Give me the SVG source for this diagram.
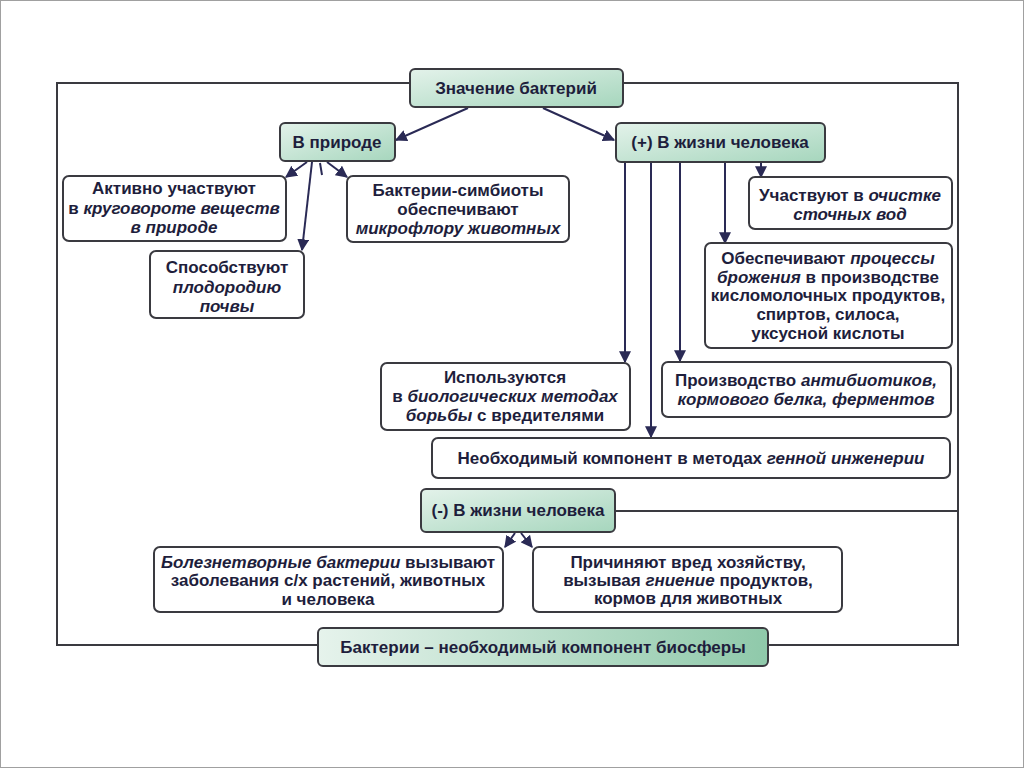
<svg xmlns="http://www.w3.org/2000/svg" width="1024" height="768" viewBox="0 0 1024 768">
<style>
.box{fill:#fff;stroke:#3a3a40;stroke-width:2}
.g{fill:url(#gr);stroke:#3a3a40;stroke-width:2}
.gb{fill:url(#gr2);stroke:#3a3a40;stroke-width:2}
text{font-family:"Liberation Sans",Arial,sans-serif;font-weight:bold;font-size:17px;fill:#1e1e3c;text-anchor:middle}
.i{font-style:italic}
.ln{stroke:#2a2a55;stroke-width:2;fill:none}
.fr{stroke:#3a3a40;stroke-width:2;fill:none}
</style>
<defs>
<linearGradient id="gr" x1="0" y1="0" x2="1" y2="1">
<stop offset="0" stop-color="#e3f2ea"/><stop offset="1" stop-color="#a6d6bd"/>
</linearGradient>
<linearGradient id="gr2" x1="0" y1="0" x2="1" y2="0">
<stop offset="0" stop-color="#e6f3ec"/><stop offset="1" stop-color="#8fc9aa"/>
</linearGradient>
<marker id="a" viewBox="0 0 10 10" refX="9" refY="5" markerWidth="6" markerHeight="6" orient="auto" markerUnits="strokeWidth">
<path d="M0,0 L10,5 L0,10 z" fill="#2a2a55"/>
</marker>
</defs>
<rect x="0.5" y="0.5" width="1023" height="767" fill="#fff" stroke="#a0a0a0"/>
<g id="connectors">
<polyline class="fr" points="410,83 57,83 57,645 318,645"/>
<polyline class="fr" points="623,83 958,83 958,645 768,645"/>
<line class="fr" x1="615" y1="511" x2="958" y2="511"/>
<line class="ln" x1="468" y1="108" x2="396" y2="140" marker-end="url(#a)"/>
<line class="ln" x1="543" y1="108" x2="614" y2="140" marker-end="url(#a)"/>
<line class="ln" x1="307" y1="162" x2="286" y2="177" marker-end="url(#a)"/>
<line class="ln" x1="312" y1="162" x2="302" y2="250" marker-end="url(#a)"/>
<line class="ln" x1="320" y1="163" x2="322" y2="175"/>
<line class="ln" x1="327" y1="162" x2="347" y2="177" marker-end="url(#a)"/>
<line class="ln" x1="761" y1="162" x2="761" y2="177" marker-end="url(#a)"/>
<line class="ln" x1="725" y1="162" x2="725" y2="243" marker-end="url(#a)"/>
<line class="ln" x1="625" y1="162" x2="625" y2="362" marker-end="url(#a)"/>
<line class="ln" x1="680" y1="162" x2="680" y2="361" marker-end="url(#a)"/>
<line class="ln" x1="651" y1="162" x2="651" y2="437" marker-end="url(#a)"/>
<line class="ln" x1="515" y1="533" x2="505" y2="547" marker-end="url(#a)"/>
<line class="ln" x1="521" y1="533" x2="532" y2="547" marker-end="url(#a)"/>
</g>
<g id="n-main"><rect class="g" x="410" y="69" width="213" height="38" rx="5"/><text x="516" y="94">Значение бактерий</text></g>
<g id="n-nature"><rect class="g" x="280" y="123" width="115" height="38" rx="5"/><text x="337" y="148">В природе</text></g>
<g id="n-plus"><rect class="g" x="616" y="123" width="209" height="39" rx="5"/><text x="720" y="148">(+) В жизни человека</text></g>
<g id="n-cycle"><rect class="box" x="63" y="176" width="223" height="65" rx="6"/>
<text x="174" y="194">Активно участвуют</text>
<text x="174" y="214">в <tspan class="i">круговороте веществ</tspan></text>
<text x="174" y="233" class="i">в природе</text></g>
<g id="n-soil"><rect class="box" x="150" y="251" width="154" height="67" rx="6"/>
<text x="227" y="273">Способствуют</text>
<text x="227" y="293" class="i">плодородию</text>
<text x="227" y="312" class="i">почвы</text></g>
<g id="n-symb"><rect class="box" x="347" y="176" width="222" height="66" rx="6"/>
<text x="458" y="196">Бактерии-симбиоты</text>
<text x="458" y="215">обеспечивают</text>
<text x="458" y="234" class="i">микрофлору животных</text></g>
<g id="n-water"><rect class="box" x="749" y="177" width="203" height="52" rx="6"/>
<text x="850" y="201">Участвуют в <tspan class="i">очистке</tspan></text>
<text x="850" y="220" class="i">сточных вод</text></g>
<g id="n-ferm"><rect class="box" x="705" y="243" width="247" height="105" rx="6"/>
<text x="828" y="264">Обеспечивают <tspan class="i">процессы</tspan></text>
<text x="828" y="283"><tspan class="i">брожения</tspan> в производстве</text>
<text x="828" y="301">кисломолочных продуктов,</text>
<text x="828" y="320">спиртов, силоса,</text>
<text x="828" y="339">уксусной кислоты</text></g>
<g id="n-bio"><rect class="box" x="381" y="363" width="249" height="67" rx="6"/>
<text x="505" y="383">Используются</text>
<text x="505" y="402">в <tspan class="i">биологических методах</tspan></text>
<text x="505" y="421"><tspan class="i">борьбы</tspan> с вредителями</text></g>
<g id="n-prod"><rect class="box" x="662" y="362" width="289" height="55" rx="6"/>
<text x="806" y="386">Производство <tspan class="i">антибиотиков,</tspan></text>
<text x="806" y="405" class="i">кормового белка, ферментов</text></g>
<g id="n-gene"><rect class="box" x="432" y="438" width="518" height="40" rx="6"/>
<text x="691" y="464">Необходимый компонент в методах <tspan class="i">генной инженерии</tspan></text></g>
<g id="n-minus"><rect class="g" x="421" y="489" width="194" height="43" rx="5"/><text x="518" y="516">(-) В жизни человека</text></g>
<g id="n-disease"><rect class="box" x="154" y="547" width="349" height="65" rx="6"/>
<text x="328" y="568"><tspan class="i">Болезнетворные бактерии</tspan> вызывают</text>
<text x="328" y="586">заболевания с/х растений, животных</text>
<text x="328" y="605">и человека</text></g>
<g id="n-harm"><rect class="box" x="533" y="547" width="309" height="65" rx="6"/>
<text x="688" y="568">Причиняют вред хозяйству,</text>
<text x="688" y="586">вызывая <tspan class="i">гниение</tspan> продуктов,</text>
<text x="688" y="604">кормов для животных</text></g>
<g id="n-bios"><rect class="gb" x="318" y="628" width="450" height="38" rx="5"/><text x="543" y="653">Бактерии – необходимый компонент биосферы</text></g>
</svg>
